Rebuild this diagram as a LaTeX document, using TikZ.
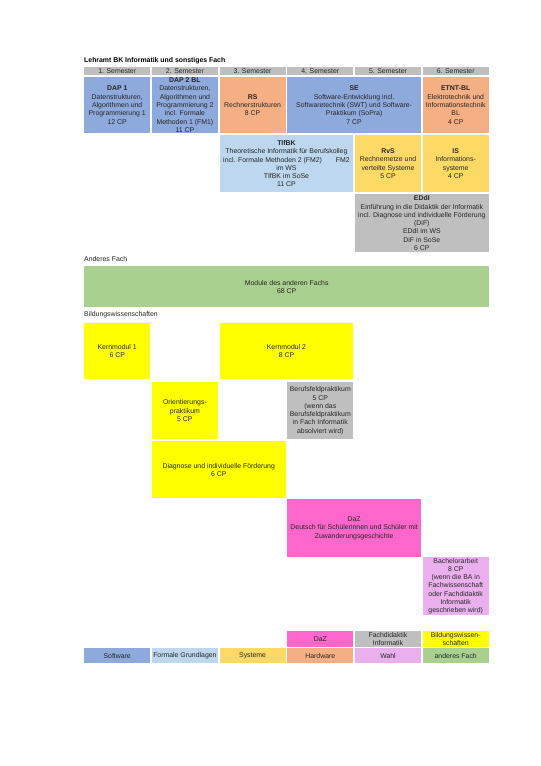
\documentclass[tikz,border=0pt]{standalone}
\usepackage{fontspec}
\setmainfont{Liberation Sans}
\usetikzlibrary{positioning}
\definecolor{swBlau}{HTML}{8EA9DB}
\definecolor{fgBlau}{HTML}{BDD7EE}
\definecolor{sysGelb}{HTML}{FFD966}
\definecolor{hwLachs}{HTML}{F4B084}
\definecolor{wahlLila}{HTML}{EAB0EE}
\definecolor{fachGruen}{HTML}{A9D08E}
\definecolor{dazPink}{HTML}{FF66CC}
\definecolor{fdGrau}{HTML}{BFBFBF}
\definecolor{bwGelb}{HTML}{FFFF00}
\tikzset{
  feld/.style={rectangle, inner sep=0pt, anchor=north west, align=center,
    font=\fontsize{6.9}{8.3}\selectfont, text=black!85},
  sp1/.style={minimum width=66pt},
  sp2/.style={minimum width=133.7pt},
  sp3/.style={minimum width=201.4pt},
  hoch/.style={minimum height=#1pt},
  beschriftung/.style={anchor=west, inner sep=0pt, font=\fontsize{6.9}{8.3}\selectfont, text=black!85}
}

\begin{document}
\begin{tikzpicture}[x=1pt, y=-1pt]
    \useasboundingbox (0,0) rectangle (541,766);
    \node[beschriftung, font=\fontsize{6.9}{8.3}\selectfont\bfseries, text=black] (titel) at (84,61) {Lehramt BK Informatik und sonstiges Fach};

    % Semesterkopf
    \foreach \i in {1,...,6}
        \node[feld, sp1, hoch=8, fill=fdGrau] (sem\i) at ({84+67.7*(\i-1)},67) {\i. Semester};

    % Informatik
    \node[feld, sp1, hoch=56, fill=swBlau] (dap1) at (84,77) {\textbf{DAP 1}\\Datenstrukturen,\\Algorithmen und\\Programmierung 1\\12 CP};
    \node[feld, sp1, hoch=56, fill=swBlau] (dap2) at (151.7,77) {\textbf{DAP 2 BL}\\Datenstrukturen,\\Algorithmen und\\Programmierung 2\\incl. Formale\\Methoden 1 (FM1)\\11 CP};
    \node[feld, sp1, hoch=56, fill=hwLachs] (rs) at (219.4,77) {\textbf{RS}\\Rechnerstrukturen\\8 CP};
    \node[feld, sp2, hoch=56, fill=swBlau] (se) at (287.1,77) {\textbf{SE}\\Software-Entwicklung incl.\\Softwaretechnik (SWT) und Software-\\Praktikum (SoPra)\\7 CP};
    \node[feld, sp1, hoch=56, fill=hwLachs] (etnt) at (422.5,77) {\textbf{ETNT-BL}\\Elektrotechnik und\\Informationstechnik\\BL\\4 CP};

    \node[feld, sp2, hoch=57, fill=fgBlau] (tifbk) at (219.4,135) {\textbf{TIfBK}\\Theoretische Informatik für Berufskolleg\\incl. Formale Methoden 2 (FM2)\hspace{2em}FM2\\im WS\\TIfBK im SoSe\\11 CP};
    \node[feld, sp1, hoch=57, fill=sysGelb] (rvs) at (354.8,135) {\textbf{RvS}\\Rechnernetze und\\verteilte Systeme\\5 CP};
    \node[feld, sp1, hoch=57, fill=sysGelb] (is) at (422.5,135) {\textbf{IS}\\Informations-\\systeme\\4 CP};

    \node[feld, sp2, hoch=58, fill=fdGrau] (eddi) at (354.8,194) {\textbf{EDdI}\\Einführung in die Didaktik der Informatik\\incl. Diagnose und individuelle Förderung\\(DiF)\\EDdI im WS\\DiF in SoSe\\6 CP};

    % anderes Fach
    \node[beschriftung] (lblfach) at (84,259) {Anderes Fach};
    \node[feld, minimum width=405pt, hoch=41, fill=fachGruen] (fach) at (84,266) {Module des anderen Fachs\\68 CP};

    % Bildungswissenschaften
    \node[beschriftung] (lblbw) at (84,315) {Bildungswissenschaften};
    \node[feld, sp1, hoch=56, fill=bwGelb] (kern1) at (84,323) {Kernmodul 1\\6 CP};
    \node[feld, sp2, hoch=56, fill=bwGelb] (kern2) at (219.4,323) {Kernmodul 2\\8 CP};
    \node[feld, sp1, hoch=57, fill=bwGelb] (orient) at (151.7,382) {Orientierungs-\\praktikum\\5 CP};
    \node[feld, sp1, hoch=57, fill=fdGrau] (bfp) at (287.1,382) {Berufsfeldpraktikum\\5 CP\\(wenn das\\Berufsfeldpraktikum\\in Fach Informatik\\absolviert wird)};
    \node[feld, sp2, hoch=57, fill=bwGelb] (dif) at (151.7,441) {Diagnose und individuelle Förderung\\6 CP};
    \node[feld, sp2, hoch=58, fill=dazPink] (daz) at (287.1,499) {DaZ\\Deutsch für Schülerinnen und Schüler mit\\Zuwanderungsgeschichte};
    \node[feld, sp1, hoch=58, fill=wahlLila] (ba) at (422.5,557) {Bachelorarbeit\\8 CP\\(wenn die BA in\\Fachwissenschaft\\oder Fachdidaktik\\Informatik\\geschrieben wird)};

    % Legende
    \node[feld, sp1, hoch=16, fill=dazPink] (legdaz) at (287.1,631) {DaZ};
    \node[feld, sp1, hoch=16, fill=fdGrau] (legfd) at (354.8,631) {Fachdidaktik\\Informatik};
    \node[feld, sp1, hoch=16, fill=bwGelb] (legbw) at (422.5,631) {Bildungswissen-\\schaften};
    \node[feld, sp1, hoch=15, fill=swBlau] (legsw) at (84,648) {Software};
    \node[feld, sp1, hoch=15, fill=fgBlau] (legfg) at (151.7,648) {Formale Grundlagen};
    \node[feld, sp1, hoch=15, fill=sysGelb] (legsys) at (219.4,648) {Systeme};
    \node[feld, sp1, hoch=15, fill=hwLachs] (leghw) at (287.1,648) {Hardware};
    \node[feld, sp1, hoch=15, fill=wahlLila] (legwahl) at (354.8,648) {Wahl};
    \node[feld, sp1, hoch=15, fill=fachGruen] (legfach) at (422.5,648) {anderes Fach};
\end{tikzpicture}
\end{document}
